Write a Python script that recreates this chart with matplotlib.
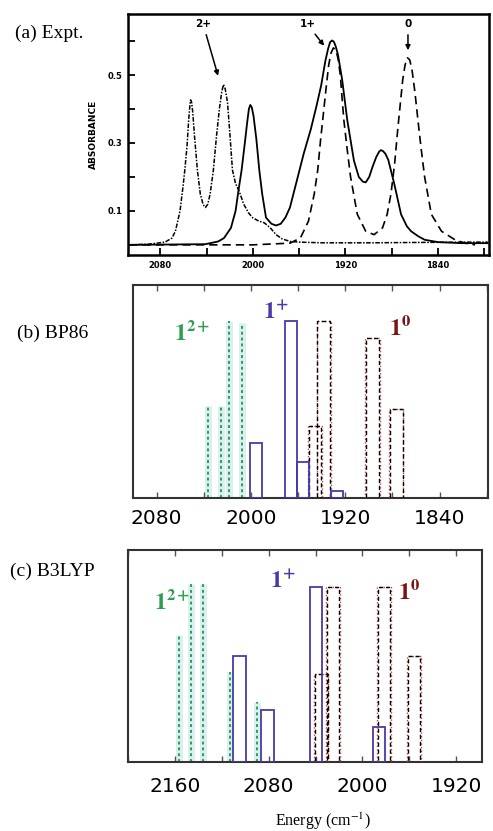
"""
Three-panel IR comparison: experimental spectrum (a) and computed
stick spectra from BP86 (b) and B3LYP (c).
"""

import matplotlib
matplotlib.use('Agg')
import matplotlib.pyplot as plt
from matplotlib.ticker import MultipleLocator

plt.rcParams['mathtext.fontset'] = 'stix'

expt_2p_x = [2107, 2090, 2076, 2070, 2067, 2063, 2060.5, 2058.9, 2057, 2055.5, 2054.5, 2053.9,
             2053, 2052, 2050.5, 2048, 2045.5, 2043, 2041, 2039, 2037, 2034.2, 2031.5,
             2029, 2027, 2025.5, 2024, 2022, 2020, 2017.7, 2015, 2012, 2008, 2004, 2000.3,
             1995, 1990.2, 1985, 1980, 1975, 1968, 1960, 1940, 1900, 1860, 1820, 1797]
expt_2p_y = [0.0, 0.002, 0.008, 0.02, 0.04, 0.10, 0.17, 0.22, 0.29, 0.37, 0.41, 0.427,
             0.42, 0.39, 0.32, 0.22, 0.15, 0.118, 0.11, 0.12, 0.15, 0.22, 0.32,
             0.40, 0.45, 0.472, 0.46, 0.42, 0.33, 0.22, 0.18, 0.159, 0.12, 0.095, 0.08,
             0.07, 0.065, 0.05, 0.03, 0.018, 0.01, 0.008, 0.006, 0.006, 0.007, 0.008, 0.008]

expt_1p_x = [2107, 2041, 2030, 2025, 2019, 2015, 2012.5, 2009.8, 2007, 2005, 2003.5, 2002.3,
             2001, 1999.5, 1997, 1994.5, 1992, 1988.7, 1984, 1980, 1976, 1972, 1968, 1962,
             1956, 1950, 1945, 1941, 1937.5, 1935, 1933.3, 1931.6, 1930, 1928.5, 1926.5,
             1922.9, 1918.5, 1912.7, 1908.5, 1905, 1902.5, 1899.5, 1896.7, 1893.5, 1891,
             1889.4, 1887.5, 1885.5, 1883, 1877.8, 1872, 1867, 1863.3, 1857, 1851.6, 1840,
             1820, 1797]
expt_1p_y = [0.0, 0.002, 0.01, 0.02, 0.05, 0.10, 0.16, 0.22, 0.30, 0.36, 0.40, 0.412,
             0.405, 0.38, 0.31, 0.22, 0.15, 0.08, 0.062, 0.057, 0.062, 0.08, 0.11, 0.19,
             0.27, 0.34, 0.41, 0.47, 0.54, 0.578, 0.597, 0.602, 0.598, 0.585, 0.56,
             0.487, 0.368, 0.248, 0.2, 0.186, 0.184, 0.2, 0.229, 0.258, 0.274,
             0.279, 0.276, 0.268, 0.25, 0.179, 0.09, 0.055, 0.04, 0.025, 0.015, 0.008,
             0.005, 0.005]

expt_0_x = [2107, 2000, 1968, 1959, 1952, 1947, 1944, 1941.5, 1939, 1936.5, 1934.5, 1932.5,
            1930.5, 1928.5, 1926.5, 1924.5, 1921.5, 1918.5, 1915.6, 1909.8, 1902.5, 1895.3,
            1888, 1884, 1880.7, 1877.5, 1874.9, 1872.5, 1870.5, 1868.5, 1866.5, 1864.5, 1862.5,
            1860, 1857.4, 1854.5, 1851.6, 1845.8, 1837, 1825.4, 1816.7, 1808]
expt_0_y = [0.0, 0.0, 0.005, 0.02, 0.07, 0.15, 0.22, 0.31, 0.39, 0.47, 0.53, 0.565,
            0.58, 0.575, 0.55, 0.5, 0.37, 0.28, 0.2, 0.09, 0.04, 0.03,
            0.05, 0.09, 0.15, 0.24, 0.338, 0.42, 0.487, 0.53, 0.551, 0.545, 0.515,
            0.45, 0.368, 0.28, 0.2, 0.09, 0.04, 0.015, 0.005, 0.0]

# ---- (b) BP86 sticks (position cm-1, relative intensity) ----
bp_1p_pos = [1995.6, 1966, 1956, 1927]
bp_1p_int = [0.257, 0.832, 0.17, 0.033]
bp_10_pos = [1945.8, 1938.4, 1897, 1876.7]
bp_10_int = [0.34, 0.832, 0.75, 0.42]
bp_12p_pos = [2036.4, 2025.8, 2018.6, 2007.7]
bp_12p_int = [0.43, 0.43, 0.83, 0.82]

# ---- (c) B3LYP sticks ----
b3_1p_pos = [2105, 2081, 2039.8, 1986]
b3_1p_int = [0.5, 0.247, 0.827, 0.165]
b3_10_pos = [2035, 2025, 1981.5, 1956]
b3_10_int = [0.417, 0.827, 0.827, 0.5]
b3_12p_pos = [2156.3, 2146.6, 2136.4, 2113, 2089.6]
b3_12p_int = [0.6, 0.84, 0.84, 0.425, 0.283]

GREEN = '#2e9e50'
PURPLE = '#4a3aa8'
DARKRED = '#7a1515'
RED = '#d0453a'
SERIF = 'Liberation Serif'
BAR_W = 10.5

fig = plt.figure(figsize=(4.93, 8.31), dpi=100)

# ================= (a) experiment =================
ax1 = fig.add_axes([0.2596, 0.6931, 0.7322, 0.2901])
ax1.plot(expt_1p_x, expt_1p_y, color='black', lw=1.3)
ax1.plot(expt_0_x, expt_0_y, color='black', lw=1.2, linestyle=(0, (5, 3)))
ax1.plot(expt_2p_x, expt_2p_y, color='black', lw=1.1, linestyle=(0, (3, 1, 1, 1)))
ax1.set_xlim(2108, 1796)
ax1.set_ylim(-0.03, 0.68)
ax1.xaxis.set_major_locator(MultipleLocator(80))
ax1.xaxis.set_minor_locator(MultipleLocator(40))
ax1.set_yticks([0.1, 0.3, 0.5])
ax1.set_yticks([0.2, 0.4, 0.6], minor=True)
ax1.tick_params(which='both', direction='in', top=False, right=False, width=1.3)
ax1.tick_params(which='major', length=5, labelsize=6, pad=4)
ax1.tick_params(which='minor', length=5)
for lbl in ax1.get_xticklabels() + ax1.get_yticklabels():
    lbl.set_fontweight('bold')
ax1.set_ylabel('ABSORBANCE', fontsize=6.5, fontweight='bold')
ax1.yaxis.set_label_coords(-0.083, 0.5)
for sp in ax1.spines.values():
    sp.set_linewidth(1.8)

arrow = dict(arrowstyle='-|>', color='black', lw=1.1, mutation_scale=7)
ax1.annotate('2+', xy=(2029.5, 0.49), xytext=(2043, 0.635), ha='center', va='bottom',
             fontsize=7.5, fontweight='bold', arrowprops=arrow)
ax1.annotate('1+', xy=(1937, 0.58), xytext=(1953, 0.635), ha='center', va='bottom',
             fontsize=7.5, fontweight='bold', arrowprops=arrow)
ax1.annotate('0', xy=(1866, 0.565), xytext=(1866, 0.635), ha='center', va='bottom',
             fontsize=7.5, fontweight='bold', arrowprops=arrow)


def stick_panel(ax, p12, i12, p1p, i1p, p10, i10):
    # 1(2+) : thin dotted green lines with a pale halo
    ax.vlines(p12, 0, i12, color='#d9eff2', lw=5, zorder=1)
    ax.vlines(p12, 0, i12, color=GREEN, lw=1.4, linestyle=(0, (1.5, 1.5)), zorder=2)
    # 1(0) : red dotted + black dashed outlines
    ax.bar(p10, i10, width=BAR_W + 1.5, fill=False, edgecolor=RED, lw=1.0,
           linestyle=':', zorder=3)
    ax.bar(p10, i10, width=BAR_W, fill=False, edgecolor='black', lw=1.0,
           linestyle=(0, (3, 2)), zorder=3)
    # 1(+) : solid purple outlines
    ax.bar(p1p, i1p, width=BAR_W, fill=False, edgecolor=PURPLE, lw=1.3, zorder=4)
    ax.set_ylim(0, 1.0)
    ax.set_yticks([])
    ax.xaxis.set_major_locator(MultipleLocator(80))
    ax.xaxis.set_minor_locator(MultipleLocator(40))
    ax.tick_params(which='both', direction='in', top=True, bottom=True, length=4,
                   width=1.0, color='#555555')
    ax.tick_params(axis='x', labelsize=14.5)
    for sp in ax.spines.values():
        sp.set_linewidth(1.5)
        sp.set_color('#333333')


# ================= (b) BP86 =================
ax2 = fig.add_axes([0.2698, 0.4007, 0.7201, 0.2563])
stick_panel(ax2, bp_12p_pos, bp_12p_int, bp_1p_pos, bp_1p_int, bp_10_pos, bp_10_int)
ax2.set_xlim(2100, 1799)
ax2.tick_params(axis='x', pad=8)
ax2.text(0.166, 0.775, r'$\mathbf{1}^{\mathbf{2+}}$', transform=ax2.transAxes,
         color=GREEN, fontsize=17, ha='center', va='center')
ax2.text(0.403, 0.873, r'$\mathbf{1}^{\mathbf{+}}$', transform=ax2.transAxes,
         color=PURPLE, fontsize=17, ha='center', va='center')
ax2.text(0.752, 0.80, r'$\mathbf{1}^{\mathbf{0}}$', transform=ax2.transAxes,
         color=DARKRED, fontsize=17, ha='center', va='center')

# ================= (c) B3LYP =================
ax3 = fig.add_axes([0.2596, 0.0830, 0.7181, 0.2551])
stick_panel(ax3, b3_12p_pos, b3_12p_int, b3_1p_pos, b3_1p_int, b3_10_pos, b3_10_int)
ax3.set_xlim(2200, 1898)
ax3.tick_params(axis='x', pad=11)
ax3.text(0.124, 0.755, r'$\mathbf{1}^{\mathbf{2+}}$', transform=ax3.transAxes,
         color=GREEN, fontsize=17, ha='center', va='center')
ax3.text(0.438, 0.85, r'$\mathbf{1}^{\mathbf{+}}$', transform=ax3.transAxes,
         color=PURPLE, fontsize=17, ha='center', va='center')
ax3.text(0.794, 0.80, r'$\mathbf{1}^{\mathbf{0}}$', transform=ax3.transAxes,
         color=DARKRED, fontsize=17, ha='center', va='center')

# panel labels and shared axis title
fig.text(0.03, 0.96, '(a) Expt.', family=SERIF, fontsize=14, va='center')
fig.text(0.035, 0.599, '(b) BP86', family=SERIF, fontsize=14, va='center')
fig.text(0.02, 0.312, '(c) B3LYP', family=SERIF, fontsize=14, va='center')
fig.text(0.655, 0.012, r'Energy (cm$^{-1}$)', family=SERIF, fontsize=11.5,
         ha='center', va='center')

fig.savefig('out.png', dpi=100, facecolor='white')
plt.close(fig)
